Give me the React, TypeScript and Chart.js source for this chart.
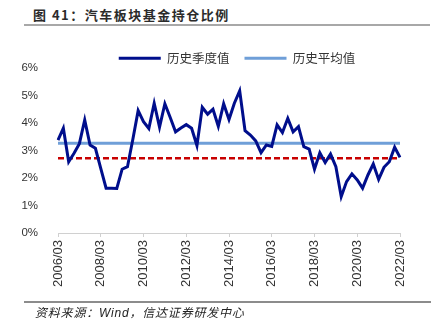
import React, { useEffect, useRef } from 'react';
import { Chart, registerables } from 'chart.js';

Chart.register(...registerables);

const CATEGORIES = [
  '2006/03', '2006/06', '2006/09', '2006/12',
  '2007/03', '2007/06', '2007/09', '2007/12',
  '2008/03', '2008/06', '2008/09', '2008/12',
  '2009/03', '2009/06', '2009/09', '2009/12',
  '2010/03', '2010/06', '2010/09', '2010/12',
  '2011/03', '2011/06', '2011/09', '2011/12',
  '2012/03', '2012/06', '2012/09', '2012/12',
  '2013/03', '2013/06', '2013/09', '2013/12',
  '2014/03', '2014/06', '2014/09', '2014/12',
  '2015/03', '2015/06', '2015/09', '2015/12',
  '2016/03', '2016/06', '2016/09', '2016/12',
  '2017/03', '2017/06', '2017/09', '2017/12',
  '2018/03', '2018/06', '2018/09', '2018/12',
  '2019/03', '2019/06', '2019/09', '2019/12',
  '2020/03', '2020/06', '2020/09', '2020/12',
  '2021/03', '2021/06', '2021/09', '2021/12',
  '2022/03',
];

const TICK_LABELS = ['2006/03', '2008/03', '2010/03', '2012/03', '2014/03', '2016/03', '2018/03', '2020/03', '2022/03'];

// 历史季度值 (%)
const QUARTERLY = [
  3.38, 3.81, 2.59, 2.9, 3.25, 4.11, 3.2, 3.08,
  2.35, 1.63, 1.63, 1.62, 2.32, 2.41, 3.4, 4.45,
  4.05, 3.8, 4.72, 3.85, 4.7, 4.2, 3.68, 3.82,
  3.94, 3.81, 3.18, 4.57, 4.32, 4.5, 3.88, 4.7,
  4.13, 4.72, 5.17, 3.72, 3.56, 3.35, 2.92, 3.2,
  3.15, 3.93, 3.65, 4.17, 3.68, 3.87, 3.14, 3.05,
  2.32, 2.92, 2.56, 2.87, 2.41, 1.32, 1.87, 2.15,
  1.93, 1.63, 2.11, 2.51, 1.95, 2.39, 2.59, 3.12,
  2.75,
];

// 历史平均值 (%)
const HIST_AVG = 3.26;
// 红色虚线参考值 (%)
const REF_LINE = 2.72;

const Y_TICKS = [0, 1, 2, 3, 4, 5, 6];

const SERIES_NAMES = ['历史季度值', '历史平均值', '参考值'];

export default function App() {
  const ref = useRef<HTMLCanvasElement>(null);

  useEffect(() => {
    document.body.style.margin = '0';
    const legendShift = {
      id: 'legendShift',
      afterLayout(chart: any) {
        const lg = chart.legend;
        if (lg) {
          lg.left += 37;
          lg.right += 37;
        }
      },
    };
    const chart = new Chart(ref.current!, {
      type: 'line',
      data: {
        labels: CATEGORIES,
        datasets: [
          {
            label: SERIES_NAMES[0],
            data: QUARTERLY,
            borderColor: '#000e8c',
            backgroundColor: '#000e8c',
            borderWidth: 3,
            pointRadius: 0,
            tension: 0,
          },
          {
            label: SERIES_NAMES[1],
            data: CATEGORIES.map(() => HIST_AVG),
            borderColor: '#6f9fd8',
            backgroundColor: '#6f9fd8',
            borderWidth: 3,
            pointRadius: 0,
          },
          {
            label: SERIES_NAMES[2],
            data: CATEGORIES.map(() => REF_LINE),
            borderColor: '#c80000',
            backgroundColor: '#c80000',
            borderWidth: 2.5,
            borderDash: [6, 3],
            pointRadius: 0,
          },
        ],
      },
      options: {
        responsive: false,
        animation: false,
        layout: { padding: { left: 0, right: 39, top: 0, bottom: 0 } },
        plugins: {
          tooltip: { enabled: false },
          legend: {
            display: true,
            position: 'top',
            maxHeight: 31,
            labels: {
              boxWidth: 42,
              boxHeight: 3,
              padding: 15,
              color: '#333',
              font: { family: '"Noto Sans CJK SC", sans-serif', size: 12.5 },
              generateLabels: (c: any) =>
                (Chart.defaults.plugins.legend.labels as any)
                  .generateLabels(c)
                  .filter((i: any) => i.datasetIndex !== 2)
                  .map((i: any) => ({ ...i, fillStyle: i.strokeStyle, lineWidth: 0, lineDash: [] })),
            },
          },
        },
        scales: {
          x: {
            type: 'category',
            offset: false,
            afterFit: (s: any) => { s.height = 95; },
            grid: {
              display: true,
              drawOnChartArea: false,
              drawTicks: true,
              tickLength: 4,
              color: (ctx: any) => (TICK_LABELS.includes(CATEGORIES[ctx.index]) ? '#d0d0d0' : 'rgba(0,0,0,0)'),
            },
            border: { display: true, color: '#d0d0d0', width: 1 },
            ticks: {
              autoSkip: false,
              maxRotation: 90,
              minRotation: 90,
              padding: 3,
              color: '#333',
              font: { family: '"Liberation Sans", Arial, sans-serif', size: 13 },
              callback: (_v: any, idx: number) => (TICK_LABELS.includes(CATEGORIES[idx]) ? CATEGORIES[idx] : ''),
            },
          },
          y: {
            min: Y_TICKS[0],
            max: Y_TICKS[Y_TICKS.length - 1],
            afterFit: (s: any) => { s.width = 58; },
            grid: { display: false },
            border: { display: false },
            ticks: {
              stepSize: 1,
              padding: 12,
              color: '#333',
              font: { family: '"Liberation Sans Narrow", "Liberation Sans", Arial, sans-serif', size: 11.5 },
              callback: (v: any) => `${v}%`,
            },
          },
        },
      },
      plugins: [legendShift],
    } as any);
    return () => chart.destroy();
  }, []);

  return (
    <div style={{ position: 'relative', width: 439, height: 328, background: '#fff', overflow: 'hidden' }}>
      <div
        style={{
          position: 'absolute', left: 33, top: 6, fontSize: 13, lineHeight: '18px', fontWeight: 'bold',
          letterSpacing: '1.5px', color: '#2b2b2b', fontFamily: '"Noto Sans CJK SC", sans-serif', whiteSpace: 'nowrap',
        }}
      >
        图 41：汽车板块基金持仓比例
      </div>
      <div style={{ position: 'absolute', left: 24, top: 24, width: 406, height: 2, background: '#a8a8a8' }} />
      <canvas
        ref={ref}
        width={439}
        height={291}
        style={{ position: 'absolute', left: 0, top: 37, width: 439, height: 291 }}
      />
      <div style={{ position: 'absolute', left: 24, top: 301, width: 407, height: 2, background: '#8c8c8c' }} />
      <div
        style={{
          position: 'absolute', left: 35, top: 303, fontSize: 12, lineHeight: '18px', fontStyle: 'italic',
          letterSpacing: '0.8px', color: '#222', fontFamily: '"Noto Sans CJK SC", sans-serif', whiteSpace: 'nowrap',
        }}
      >
        资料来源：<span style={{ fontFamily: '"Liberation Sans", Arial, sans-serif' }}>Wind</span>，信达证券研发中心
      </div>
    </div>
  );
}
